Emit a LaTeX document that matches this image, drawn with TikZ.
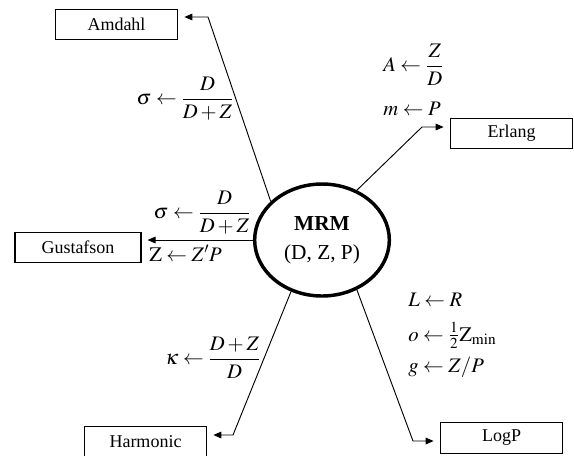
\documentclass[tikz,border=0pt]{standalone}
\usepackage{amsmath}
\usepackage{mathptmx}
\usepackage{fontspec}
\setmainfont{Liberation Serif}
\usetikzlibrary{arrows.meta, shapes.geometric}

\begin{document}
\begin{tikzpicture}[x=0.75pt, y=-0.75pt,
      every node/.style={font=\fontsize{13.5}{16}\selectfont},
      model/.style={draw, line width=0.8pt, minimum width=92pt, minimum height=23pt, inner sep=0pt},
      core/.style={ellipse, draw, line width=2.6pt, minimum width=101pt, minimum height=84pt,
                   align=center, font=\fontsize{16}{21.5}\selectfont},
      lab/.style={font=\fontsize{15.5}{18}\selectfont, inner sep=0pt},
      arr/.style={-{Triangle[length=6pt,width=5pt]}, line width=0.7pt, shorten >=4.5pt}]
    \useasboundingbox (0,0) rectangle (574,455);
    \node[core] (mrm) at (322,240) {\textbf{MRM}\\ (D, Z, P)};
    \node[model] (amdahl) at (116.5,24.5) {Amdahl};
    \node[model] (erlang) at (511.5,133.5) {Erlang};
    \node[model, minimum width=94.5pt] (gustafson) at (78,247.5) {Gustafson};
    \node[model] (harmonic) at (145.5,441.5) {Harmonic};
    \node[model] (logp) at (501.5,438) {LogP};
    % model parameters
    \node[lab, anchor=east] (amdlab) at (234,99) {$\displaystyle\sigma\leftarrow\frac{D}{D+Z}$};
    \node[lab, anchor=east] (guslab) at (251,213) {$\displaystyle\sigma\leftarrow\frac{D}{D+Z}$};
    \node[lab, anchor=base west] (guslab2) at (149,261) {$\mathrm{Z}\leftarrow Z'P$};
    \node[lab, anchor=east] (harlab) at (261,358) {$\displaystyle\kappa\leftarrow\frac{D+Z}{D}$};
    \node[lab, anchor=west] (erlab) at (383,65) {$\displaystyle A\leftarrow\frac{Z}{D}$};
    \node[lab, anchor=base west] (erlab2) at (383,115) {$m\leftarrow P$};
    \node[lab, anchor=base west] (loglab) at (408,306) {$L\leftarrow R$};
    \node[lab, anchor=base west] (loglab2) at (408,341) {$o\leftarrow\tfrac{1}{2}\mathrm{Z}_{\min}$};
    \node[lab, anchor=base west] (loglab3) at (408,372) {$g\leftarrow Z/P$};
    % connectors
    \coordinate (ka) at (208,17);
    \coordinate (ke) at (422,127);
    \coordinate (kh) at (233,435);
    \coordinate (kl) at (413,441);
    \draw[arr] (mrm.143) -- (ka) -- (ka -| amdahl.east);
    \draw[arr] (mrm.55) -- (ke) -- (ke -| erlang.west);
    \draw[arr] (mrm.west) -- (mrm.west -| gustafson.east);
    \draw[arr] (mrm.239) -- (kh) -- (kh -| harmonic.east);
    \draw[arr] (mrm.305) -- (kl) -- (kl -| logp.west);
  \end{tikzpicture}
\end{document}
